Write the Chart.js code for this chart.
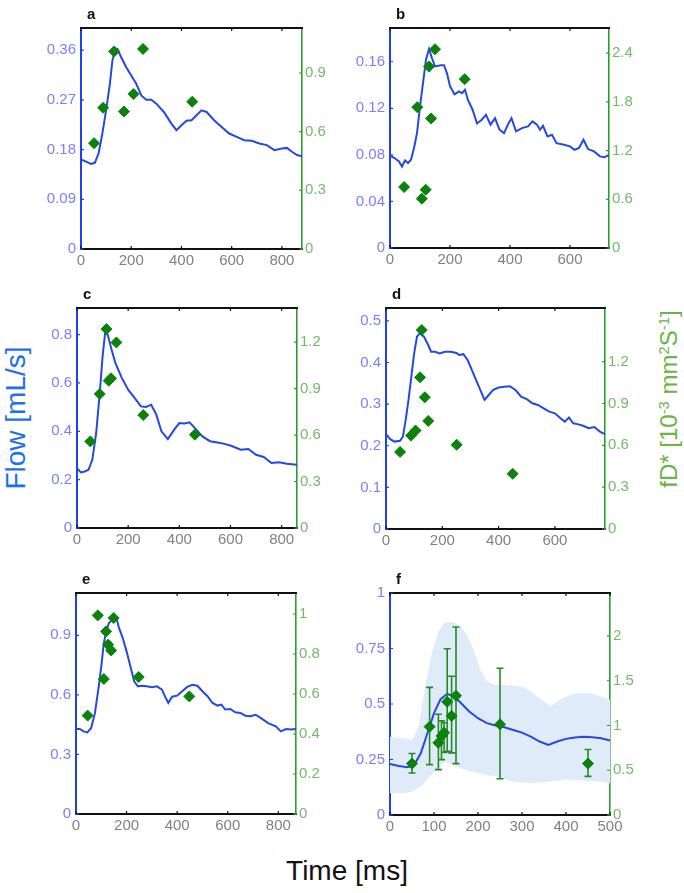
<!DOCTYPE html>
<html>
<head>
<meta charset="utf-8">
<script src="https://cdn.jsdelivr.net/npm/chart.js@4.4.0/dist/chart.umd.min.js"></script>
<style>
  body { margin: 0; background: #fff; width: 684px; height: 893px; position: relative; overflow: hidden; font-family: "Liberation Sans", Arial, sans-serif; }
  canvas { position: absolute; }
  .lbl { position: absolute; white-space: nowrap; line-height: 1; }
  .letter { position: absolute; font-weight: bold; font-size: 15px; line-height: 15px; color: #111; }
  sup { font-size: 0.62em; vertical-align: 0.55em; }
</style>
</head>
<body>
<div class="lbl" style="left:16px;top:418px;transform:translate(-50%,-50%) rotate(-90deg);font-size:28px;color:#1e6ef0">Flow [mL/s]</div>
<div class="lbl" style="left:669px;top:399px;transform:translate(-50%,-50%) rotate(-90deg);font-size:24px;color:#6db347">fD* [10<sup>-3</sup> mm<sup>2</sup>S<sup>-1</sup>]</div>
<div class="lbl" style="left:347px;top:871px;transform:translate(-50%,-50%);font-size:28px;color:#111">Time [ms]</div>

<script>
// panel a
const aTime = [0,20,40,55,70,85,100,115,125,135,145,160,180,200,220,240,260,280,300,330,360,380,400,420,440,460,480,500,530,560,590,620,650,680,710,740,770,800,820,840,860,880];
const aFlow = [0.162,0.158,0.154,0.156,0.173,0.209,0.251,0.299,0.341,0.359,0.362,0.347,0.329,0.314,0.299,0.278,0.270,0.270,0.263,0.248,0.227,0.215,0.224,0.232,0.233,0.242,0.251,0.248,0.233,0.221,0.209,0.203,0.197,0.196,0.191,0.188,0.179,0.182,0.183,0.176,0.170,0.168];
const aDotT = [52,88,132,171,209,247,443];
const aDotFD = [0.541,0.722,1.01,0.703,0.792,1.023,0.753];
const aXTicks = [0,200,400,600,800];
const aYTicks = [0,0.09,0.18,0.27,0.36];
const aY1Ticks = [0,0.3,0.6,0.9];

// panel b
const bTime = [0,15,30,40,50,60,70,80,90,100,110,120,130,140,150,170,180,190,200,215,230,240,250,260,275,290,305,320,335,350,365,380,395,405,420,440,460,475,490,500,510,525,540,555,580,600,615,630,645,660,680,700,715,730];
const bFlow = [0.0793,0.0773,0.0744,0.070,0.0753,0.073,0.0758,0.0859,0.0987,0.1216,0.1417,0.1617,0.171,0.163,0.156,0.157,0.157,0.150,0.139,0.132,0.1345,0.133,0.136,0.127,0.119,0.107,0.110,0.1145,0.106,0.1116,0.1016,0.0987,0.107,0.1116,0.1002,0.103,0.1045,0.1088,0.106,0.1016,0.105,0.0959,0.0973,0.090,0.0887,0.0873,0.0844,0.0859,0.093,0.085,0.083,0.0787,0.078,0.080];
const bDotT = [47,91,106,119,130,137,150,249];
const bDotFD = [0.751,1.735,0.607,0.718,2.236,1.596,2.449,2.08];
const bXTicks = [0,200,400,600];
const bYTicks = [0,0.04,0.08,0.12,0.16];
const bY1Ticks = [0,0.6,1.2,1.8,2.4];

// panel c
const cTime = [0,15,30,45,60,75,90,100,110,120,135,150,175,200,225,250,270,290,310,330,355,380,400,420,440,460,490,520,560,600,640,670,700,730,760,790,820,860];
const cFlow = [0.248,0.230,0.234,0.241,0.283,0.393,0.572,0.710,0.807,0.800,0.738,0.683,0.621,0.572,0.538,0.503,0.501,0.510,0.469,0.400,0.368,0.407,0.434,0.432,0.437,0.414,0.379,0.359,0.352,0.341,0.324,0.327,0.303,0.294,0.269,0.272,0.266,0.262];
const cDotT = [52,89,115,124,133,154,259,461];
const cDotFD = [0.559,0.865,1.284,0.951,0.966,1.198,0.729,0.602];
const cXTicks = [0,200,400,600,800];
const cYTicks = [0,0.2,0.4,0.6,0.8];
const cY1Ticks = [0,0.3,0.6,0.9,1.2];

// panel d
const dTime = [0,15,30,50,60,70,80,90,100,110,120,135,150,160,175,190,210,230,250,260,275,290,310,330,350,365,380,400,420,440,460,480,500,520,540,560,580,600,620,635,650,665,680,700,720,740,760,777];
const dFlow = [0.228,0.216,0.210,0.212,0.222,0.262,0.310,0.366,0.422,0.462,0.470,0.462,0.442,0.426,0.426,0.422,0.426,0.426,0.423,0.418,0.420,0.406,0.374,0.342,0.310,0.322,0.334,0.340,0.342,0.343,0.334,0.318,0.312,0.302,0.298,0.290,0.282,0.278,0.266,0.258,0.268,0.254,0.252,0.248,0.242,0.245,0.234,0.228];
const dDotT = [50,89,105,121,127,138,150,251,450];
const dDotFD = [0.553,0.670,0.706,1.088,1.427,0.945,0.775,0.604,0.396];
const dXTicks = [0,200,400,600];
const dYTicks = [0,0.1,0.2,0.3,0.4,0.5];
const dY1Ticks = [0,0.3,0.6,0.9,1.2];

// panel e
const eTime = [0,15,30,45,60,75,90,100,110,120,130,145,160,170,185,200,215,230,245,260,280,300,320,340,355,365,380,400,420,440,460,480,500,520,540,560,575,590,610,630,650,670,690,710,730,760,790,810,830,850,870];
const eFlow = [0.428,0.428,0.416,0.411,0.433,0.509,0.643,0.744,0.861,0.920,0.962,0.979,0.987,0.937,0.886,0.819,0.744,0.668,0.643,0.646,0.643,0.638,0.643,0.626,0.584,0.559,0.591,0.596,0.618,0.640,0.651,0.646,0.618,0.593,0.559,0.546,0.551,0.526,0.529,0.512,0.509,0.495,0.492,0.500,0.484,0.458,0.442,0.416,0.428,0.425,0.428];
const eDotT = [46,86,110,119,127,139,149,248,448];
const eDotFD = [0.492,0.993,0.675,0.913,0.847,0.818,0.98,0.685,0.588];
const eXTicks = [0,200,400,600,800];
const eYTicks = [0,0.3,0.6,0.9];
const eY1Ticks = [0,0.2,0.4,0.6,0.8,1];

// panel f (mean flow, spread band, fD* with error bars)
const fTime = [0,20,40,55,70,85,100,115,130,145,160,180,200,220,240,260,280,300,320,340,360,380,400,420,440,460,480,500];
const fMean = [0.230,0.221,0.215,0.226,0.278,0.368,0.459,0.522,0.546,0.534,0.507,0.466,0.436,0.414,0.403,0.395,0.383,0.371,0.353,0.331,0.316,0.331,0.343,0.349,0.353,0.350,0.346,0.335];
const fUpT = [0,30,50,65,80,95,110,125,145,160,175,190,205,220,240,270,300,320,345,365,380,400,420,440,460,480,500];
const fUpper = [0.353,0.346,0.338,0.398,0.579,0.729,0.827,0.868,0.868,0.850,0.812,0.744,0.654,0.602,0.586,0.586,0.579,0.556,0.519,0.489,0.511,0.534,0.546,0.549,0.546,0.534,0.519];
const fLowT = [0,30,50,70,90,110,125,140,160,200,240,280,320,360,400,440,480,500];
const fLower = [0.098,0.098,0.105,0.128,0.173,0.211,0.241,0.226,0.211,0.188,0.173,0.150,0.143,0.150,0.161,0.155,0.150,0.143];
const fDotT = [50,90,110,117,123,130,140,150,250,450];
const fDotFD = [0.574,0.987,0.807,0.882,0.919,1.264,1.107,1.332,1.013,0.574];
const fErrLo = [0.469,0.563,0.507,0.619,0.70,0.713,0.694,0.574,0.405,0.432];
const fErrHi = [0.687,1.426,1.126,1.051,1.03,1.857,1.55,2.10,1.64,0.732];
const fXTicks = [0,100,200,300,400,500];
const fYTicks = [0,0.25,0.5,0.75,1];
const fY1Ticks = [0,0.5,1,1.5,2];

const BLUE = '#2648e0';
const GREEN = '#0b820b';

const panels = [
  { letter: 'a', box: [81, 28, 302, 249], xMax: 880, yMax: 0.4, y1Max: 1.13, time: aTime, flow: aFlow, dotT: aDotT, dotV: aDotFD, xTicks: aXTicks, yTicks: aYTicks, y1Ticks: aY1Ticks },
  { letter: 'b', box: [390, 28, 609, 248], xMax: 730, yMax: 0.189, y1Max: 2.71, time: bTime, flow: bFlow, dotT: bDotT, dotV: bDotFD, xTicks: bXTicks, yTicks: bYTicks, y1Ticks: bY1Ticks },
  { letter: 'c', box: [77, 308, 297, 528], xMax: 860, yMax: 0.91, y1Max: 1.42, time: cTime, flow: cFlow, dotT: cDotT, dotV: cDotFD, xTicks: cXTicks, yTicks: cYTicks, y1Ticks: cY1Ticks },
  { letter: 'd', box: [386, 308, 605, 529], xMax: 778, yMax: 0.531, y1Max: 1.585, time: dTime, flow: dFlow, dotT: dDotT, dotV: dDotFD, xTicks: dXTicks, yTicks: dYTicks, y1Ticks: dY1Ticks },
  { letter: 'e', box: [76, 593, 296, 814], xMax: 870, yMax: 1.113, y1Max: 1.105, time: eTime, flow: eFlow, dotT: eDotT, dotV: eDotFD, xTicks: eXTicks, yTicks: eYTicks, y1Ticks: eY1Ticks },
  { letter: 'f', box: [390, 593, 610, 815], xMax: 500, yMax: 1, y1Max: 2.48, time: fTime, flow: fMean, dotT: fDotT, dotV: fDotFD, xTicks: fXTicks, yTicks: fYTicks, y1Ticks: fY1Ticks,
    band: { upT: fUpT, up: fUpper, lowT: fLowT, low: fLower }, err: { lo: fErrLo, hi: fErrHi } }
];

const pts = (xs, ys) => xs.map((x, i) => ({ x: x, y: ys[i] }));
const fmt = v => String(Number(v.toFixed(3)));

// top border and inward tick marks, like the original axes
const framePlugin = {
  id: 'frame',
  afterDraw(chart) {
    const { ctx, chartArea: a, scales } = chart;
    ctx.save();
    ctx.strokeStyle = '#111';
    ctx.lineWidth = 2;
    ctx.beginPath();
    ctx.moveTo(a.left - 1, a.top);
    ctx.lineTo(a.right + 1, a.top);
    ctx.stroke();
    ctx.lineWidth = 1.2;
    ctx.beginPath();
    scales.x.ticks.forEach(t => {
      const px = scales.x.getPixelForValue(t.value);
      ctx.moveTo(px, a.bottom); ctx.lineTo(px, a.bottom - 3);
      ctx.moveTo(px, a.top); ctx.lineTo(px, a.top + 3);
    });
    ctx.stroke();
    ctx.strokeStyle = '#2040f0';
    ctx.beginPath();
    scales.y.ticks.forEach(t => {
      const py = scales.y.getPixelForValue(t.value);
      ctx.moveTo(a.left, py); ctx.lineTo(a.left + 3, py);
    });
    ctx.stroke();
    ctx.strokeStyle = '#2f9a2f';
    ctx.beginPath();
    scales.y1.ticks.forEach(t => {
      const py = scales.y1.getPixelForValue(t.value);
      ctx.moveTo(a.right, py); ctx.lineTo(a.right - 3, py);
    });
    ctx.stroke();
    ctx.restore();
  }
};

// vertical error bars drawn under the diamond markers
const errPlugin = {
  id: 'errbars',
  beforeDatasetDraw(chart, args, opts) {
    if (args.index !== 0 || !opts.lo) return;
    const { ctx } = chart;
    const y1 = chart.scales.y1;
    const meta = chart.getDatasetMeta(0);
    ctx.save();
    ctx.strokeStyle = '#268a26';
    ctx.lineWidth = 1.6;
    ctx.beginPath();
    meta.data.forEach((pt, i) => {
      const top = y1.getPixelForValue(opts.hi[i]);
      const bot = y1.getPixelForValue(opts.lo[i]);
      ctx.moveTo(pt.x, top); ctx.lineTo(pt.x, bot);
      ctx.moveTo(pt.x - 3.5, top); ctx.lineTo(pt.x + 3.5, top);
      ctx.moveTo(pt.x - 3.5, bot); ctx.lineTo(pt.x + 3.5, bot);
    });
    ctx.stroke();
    ctx.restore();
  }
};

function makePanel(p) {
  const [L, T, R, B] = p.box;
  const cv = document.createElement('canvas');
  cv.width = R - L + 100;
  cv.height = B - T + 50;
  cv.style.left = (L - 50) + 'px';
  cv.style.top = (T - 20) + 'px';
  document.body.appendChild(cv);

  const lt = document.createElement('div');
  lt.className = 'letter';
  lt.textContent = p.letter;
  lt.style.left = (L + 6) + 'px';
  lt.style.top = (T - 22) + 'px';
  document.body.appendChild(lt);

  const datasets = [
    { data: pts(p.dotT, p.dotV), yAxisID: 'y1', showLine: false, pointStyle: 'rectRot',
      pointRadius: 5.5, pointBackgroundColor: GREEN, pointBorderColor: GREEN, pointBorderWidth: 1 },
    { data: pts(p.time, p.flow), yAxisID: 'y', borderColor: BLUE, borderWidth: 2, pointRadius: 0, fill: false }
  ];
  if (p.band) {
    datasets.push({ data: pts(p.band.upT, p.band.up), yAxisID: 'y', borderWidth: 0, borderColor: 'rgba(0,0,0,0)', pointRadius: 0, fill: false });
    datasets.push({ data: pts(p.band.lowT, p.band.low), yAxisID: 'y', borderWidth: 0, borderColor: 'rgba(0,0,0,0)', pointRadius: 0,
      fill: '-1', backgroundColor: '#e0ebf9' });
  }

  const tickFont = { family: '"Liberation Sans", Arial, sans-serif', size: 15 };
  new Chart(cv, {
    type: 'line',
    data: { datasets },
    options: {
      responsive: false,
      animation: false,
      events: [],
      layout: { padding: { top: 20, left: 0, right: 0, bottom: 0 } },
      plugins: {
        legend: { display: false },
        tooltip: { enabled: false },
        filler: { drawTime: 'beforeDatasetsDraw' },
        errbars: p.err || {}
      },
      scales: {
        x: {
          type: 'linear', min: 0, max: p.xMax,
          grid: { display: false, drawTicks: false },
          border: { color: '#111', width: 2 },
          ticks: { color: '#808080', font: tickFont, padding: 3, maxRotation: 0, callback: fmt },
          afterBuildTicks: s => { s.ticks = p.xTicks.map(v => ({ value: v })); },
          afterFit: s => { s.height = 30; }
        },
        y: {
          position: 'left', min: 0, max: p.yMax,
          grid: { display: false, drawTicks: false },
          border: { color: '#2040f0', width: 2 },
          ticks: { color: '#7d7dfa', font: tickFont, padding: 5, callback: fmt },
          afterBuildTicks: s => { s.ticks = p.yTicks.map(v => ({ value: v })); },
          afterFit: s => { s.width = 50; }
        },
        y1: {
          position: 'right', min: 0, max: p.y1Max,
          grid: { display: false, drawTicks: false },
          border: { color: '#2f9a2f', width: 1.6 },
          ticks: { color: '#74b96a', font: tickFont, padding: 3, callback: fmt },
          afterBuildTicks: s => { s.ticks = p.y1Ticks.map(v => ({ value: v })); },
          afterFit: s => { s.width = 50; }
        }
      }
    },
    plugins: [framePlugin, errPlugin]
  });
}

panels.forEach(makePanel);
</script>
</body>
</html>
